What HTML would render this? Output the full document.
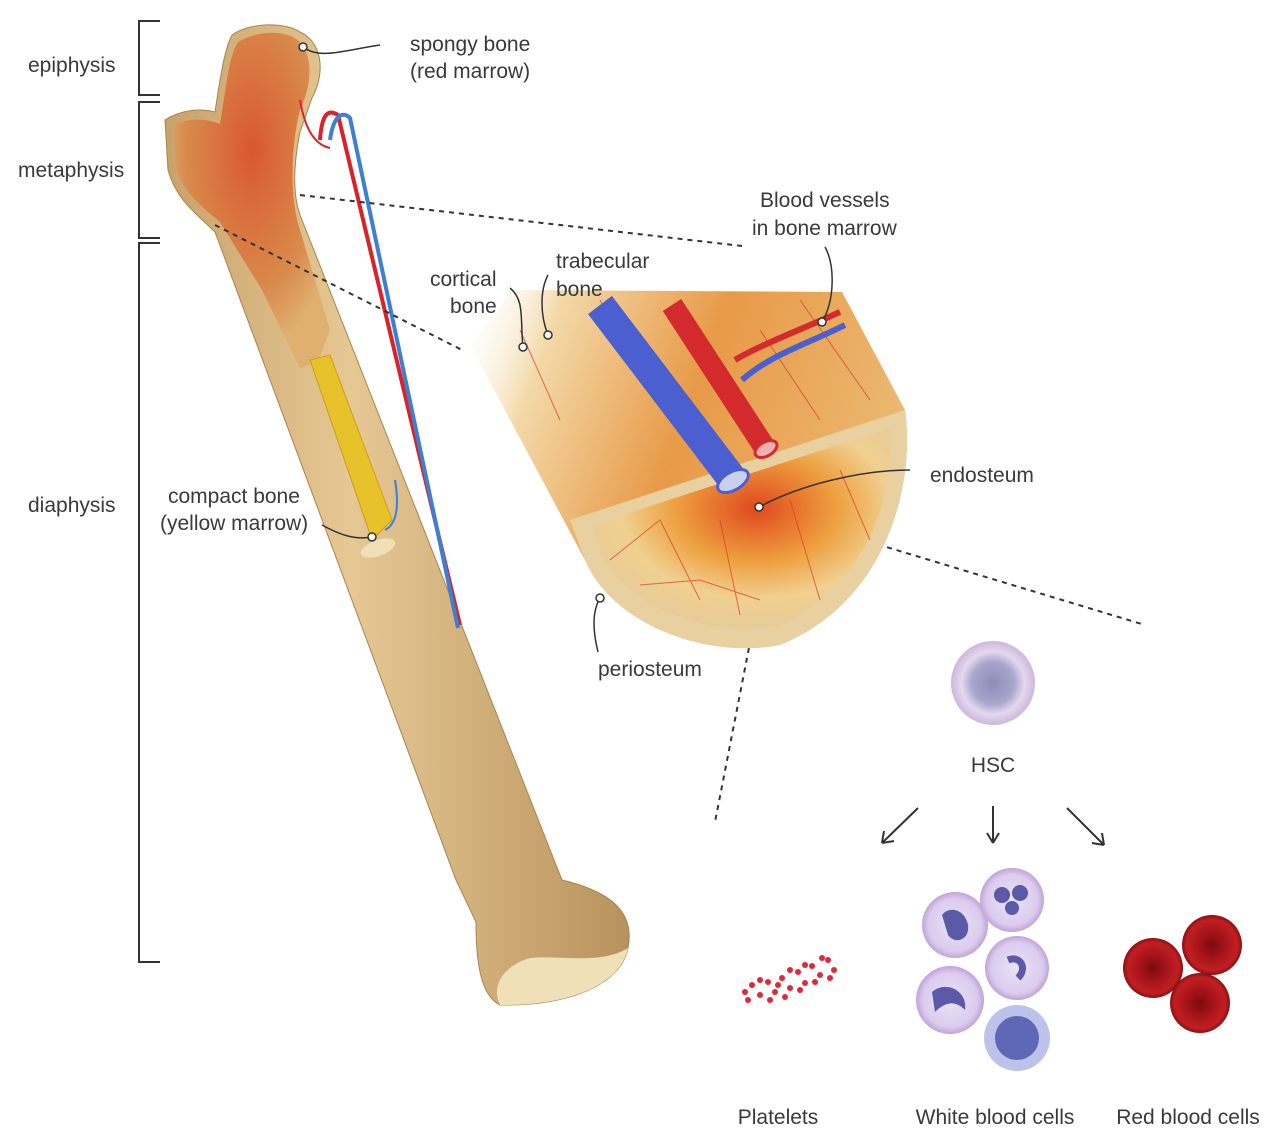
<!DOCTYPE html>
<html><head><meta charset="utf-8"><style>
html,body{margin:0;padding:0;background:#fff}
svg{display:block}
text{font-family:"Liberation Sans",sans-serif;fill:#3a3a3a;font-size:21px}
</style></head><body>
<svg width="1280" height="1142" viewBox="0 0 1280 1142" xmlns="http://www.w3.org/2000/svg">
<defs>
<linearGradient id="boneG" x1="0" y1="0" x2="1" y2="0">
<stop offset="0" stop-color="#c9a26a"/><stop offset="0.4" stop-color="#e6c894"/><stop offset="1" stop-color="#b8925c"/></linearGradient>
<radialGradient id="marrowG" cx="0.5" cy="0.35" r="0.6">
<stop offset="0" stop-color="#d9582e"/><stop offset="0.7" stop-color="#d98a4c"/><stop offset="1" stop-color="#e0b070"/></radialGradient>
<radialGradient id="faceG" cx="0.55" cy="0.4" r="0.6">
<stop offset="0" stop-color="#e0481e"/><stop offset="0.45" stop-color="#eea040"/><stop offset="0.75" stop-color="#f0d090"/><stop offset="1" stop-color="#e8cc98"/></radialGradient>
<linearGradient id="sideG" x1="0" y1="0" x2="1" y2="0.3">
<stop offset="0" stop-color="#fff" stop-opacity="0"/><stop offset="0.2" stop-color="#f3d9a8"/><stop offset="0.55" stop-color="#e89a48"/><stop offset="1" stop-color="#ebb870"/></linearGradient>
<radialGradient id="hscG" cx="0.5" cy="0.5" r="0.5">
<stop offset="0" stop-color="#8e8cb8"/><stop offset="0.5" stop-color="#a9a6cc"/><stop offset="0.75" stop-color="#e4d8ee"/><stop offset="1" stop-color="#cdb7dc"/></radialGradient>
<radialGradient id="wbcG" cx="0.5" cy="0.5" r="0.5">
<stop offset="0" stop-color="#e8e4f4"/><stop offset="0.8" stop-color="#dccbee"/><stop offset="1" stop-color="#c0a4d8"/></radialGradient>
<radialGradient id="rbcG" cx="0.5" cy="0.5" r="0.5">
<stop offset="0" stop-color="#7a0c0c"/><stop offset="0.45" stop-color="#a5141a"/><stop offset="0.85" stop-color="#c01f22"/><stop offset="1" stop-color="#8c1010"/></radialGradient>
</defs>

<g stroke="#333" stroke-width="2" fill="none">
<path d="M160,21 H139 V95 H160"/>
<path d="M160,102 H139 V238 H160"/>
<path d="M160,243 H139 V962 H160"/>
</g>
<text x="28" y="72">epiphysis</text>
<text x="18" y="177">metaphysis</text>
<text x="28" y="512">diaphysis</text>

<path d="M300,32 C322,42 326,72 312,98 L300,132 C294,162 292,192 300,215 L562,880 C604,890 636,908 628,948 C620,988 562,1006 500,1005 C480,995 476,960 476,922 L456,880 L215,232 C198,215 176,200 168,170 L165,120 C180,110 200,108 215,112 C220,80 224,50 232,35 C250,22 285,22 300,32 Z" fill="url(#boneG)" stroke="#a88450" stroke-width="1"/>
<path d="M500,1005 C490,985 505,965 530,958 C560,955 600,965 628,948 C620,988 562,1006 500,1005Z" fill="#efe0b8"/>
<path d="M298,40 C314,55 312,85 300,110 C290,150 290,200 300,230 L330,330 L318,362 L300,368 L262,290 L220,222 C200,205 180,190 176,165 L174,125 C188,118 205,118 220,124 C226,90 228,58 238,42 C258,30 285,30 298,40Z" fill="url(#marrowG)"/>
<path d="M310,360 L330,355 L392,520 L372,540 Z" fill="#e8c22a" stroke="#c9a018"/>
<ellipse cx="378" cy="548" rx="18" ry="8" fill="#efe0b8" transform="rotate(-20 378 548)"/>
<path d="M320,140 C322,110 330,110 338,115 L460,625" stroke="#d9232a" stroke-width="4" fill="none"/>
<path d="M330,140 C334,112 344,112 350,118 L458,628" stroke="#3d7fd0" stroke-width="4" fill="none"/>
<path d="M300,100 C305,130 315,145 330,148" stroke="#d9232a" stroke-width="2" fill="none"/>
<path d="M395,480 C400,510 395,525 385,530" stroke="#3d7fd0" stroke-width="2" fill="none"/>

<g stroke="#333" stroke-width="2" stroke-dasharray="5,5" fill="none">
<path d="M300,195 L742,246"/>
<path d="M215,225 L462,350"/>
<path d="M820,527 L1145,625"/>
<path d="M770,540 L715,822"/>
</g>

<path d="M470,345 L512,290 L842,292 L905,410 C915,480 890,600 780,645 C700,660 610,620 585,560 L470,345Z" fill="url(#sideG)"/>
<path d="M570,520 L905,410 C915,480 890,600 780,645 C700,660 610,620 585,560 Z" fill="#e9d0a0"/>
<path d="M592,525 L890,428 C895,490 870,585 780,625 C710,640 625,605 602,555 Z" fill="url(#faceG)"/>
<g stroke="#d53a2a" stroke-width="1" fill="none" opacity="0.7">
<path d="M610,560 L660,520 L700,600 M720,520 L740,615 M790,500 L820,600 M840,470 L870,540 M640,585 L700,580 L760,600"/>
<path d="M520,330 L560,420 M600,300 L640,380 M800,300 L870,400 M760,330 L820,420"/>
</g>
<path d="M600,305 L733,480" stroke="#4b5fd0" stroke-width="30" fill="none"/>
<ellipse cx="733" cy="481" rx="17" ry="9" fill="#c8d0f0" stroke="#4b5fd0" stroke-width="3" transform="rotate(-30 733 481)"/>
<path d="M672,305 L765,448" stroke="#d32a2e" stroke-width="22" fill="none"/>
<ellipse cx="766" cy="449" rx="12" ry="7" fill="#f0b0b0" stroke="#d32a2e" stroke-width="3" transform="rotate(-30 766 449)"/>
<path d="M735,360 C760,345 800,330 840,312" stroke="#d32a2e" stroke-width="6" fill="none"/>
<path d="M742,380 C770,355 805,345 845,325" stroke="#4b5fd0" stroke-width="6" fill="none"/>

<g stroke="#333" stroke-width="1.5" fill="none">
<path d="M303,47 C320,60 345,50 380,45"/>
<path d="M372,537 C355,540 340,535 322,525"/>
<path d="M523,347 C520,320 525,300 510,288"/>
<path d="M548,335 C540,315 540,290 548,275"/>
<path d="M822,322 C835,300 835,265 825,247"/>
<path d="M759,507 C800,485 860,470 910,470"/>
<path d="M600,598 C590,615 595,640 598,652"/>
</g>
<g fill="#fff" stroke="#333" stroke-width="1.5">
<circle cx="303" cy="47" r="4"/><circle cx="372" cy="537" r="4"/><circle cx="523" cy="347" r="4"/>
<circle cx="548" cy="335" r="4"/><circle cx="822" cy="322" r="4"/><circle cx="759" cy="507" r="4"/><circle cx="600" cy="598" r="4"/>
</g>
<text x="410" y="51">spongy bone</text>
<text x="410" y="78">(red marrow)</text>
<text x="168" y="503">compact bone</text>
<text x="160" y="530">(yellow marrow)</text>
<text x="430" y="286">cortical</text>
<text x="450" y="313">bone</text>
<text x="556" y="268">trabecular</text>
<text x="556" y="296">bone</text>
<text x="760" y="207">Blood vessels</text>
<text x="752" y="235">in bone marrow</text>
<text x="930" y="482">endosteum</text>
<text x="598" y="676">periosteum</text>

<circle cx="993" cy="683" r="42" fill="url(#hscG)"/>
<text x="993" y="772" text-anchor="middle">HSC</text>
<g stroke="#333" stroke-width="2" fill="none">
<path d="M918,808 L882,843 M882,843 L894,841 M882,843 L884,831"/>
<path d="M993,806 L993,843 M993,843 L987,833 M993,843 L999,833"/>
<path d="M1067,808 L1104,845 M1104,845 L1102,833 M1104,845 L1092,843"/>
</g>

<g fill="#e0283a">
<circle cx="745" cy="992" r="3"/><circle cx="752" cy="985" r="3"/><circle cx="760" cy="995" r="3"/><circle cx="768" cy="982" r="3"/>
<circle cx="775" cy="992" r="3"/><circle cx="782" cy="978" r="3"/><circle cx="790" cy="988" r="3"/><circle cx="798" cy="972" r="3"/>
<circle cx="805" cy="983" r="3"/><circle cx="812" cy="966" r="3"/><circle cx="820" cy="975" r="3"/><circle cx="828" cy="960" r="3"/>
<circle cx="834" cy="970" r="3"/><circle cx="760" cy="980" r="3"/><circle cx="770" cy="1000" r="3"/><circle cx="785" cy="997" r="3"/>
<circle cx="800" cy="990" r="3"/><circle cx="815" cy="982" r="3"/><circle cx="822" cy="958" r="3"/><circle cx="805" cy="965" r="3"/>
<circle cx="790" cy="970" r="3"/><circle cx="778" cy="985" r="3"/><circle cx="748" cy="1000" r="3"/><circle cx="830" cy="978" r="3"/>
</g>
<g>
<circle cx="955" cy="925" r="33" fill="url(#wbcG)"/><path d="M942,915 C950,905 965,910 968,925 C970,940 955,945 948,935 Z" fill="#5b5aa8"/>
<circle cx="1012" cy="900" r="32" fill="url(#wbcG)"/><circle cx="1002" cy="895" r="8" fill="#5b5aa8"/><circle cx="1020" cy="893" r="8" fill="#5b5aa8"/><circle cx="1012" cy="908" r="7" fill="#5b5aa8"/>
<circle cx="1017" cy="968" r="32" fill="url(#wbcG)"/><path d="M1008,960 C1020,955 1028,968 1018,978" stroke="#5b5aa8" stroke-width="7" fill="none"/>
<circle cx="950" cy="1000" r="34" fill="url(#wbcG)"/><path d="M932,992 C945,980 968,990 965,1010 C955,1000 945,1002 935,1012 Z" fill="#5b5aa8"/>
<circle cx="1017" cy="1038" r="33" fill="#bcc2ea"/><circle cx="1017" cy="1038" r="22" fill="#5f68b4"/>
</g>
<circle cx="1212" cy="945" r="30" fill="url(#rbcG)"/>
<circle cx="1153" cy="968" r="30" fill="url(#rbcG)"/>
<circle cx="1200" cy="1003" r="30" fill="url(#rbcG)"/>

<text x="778" y="1124" text-anchor="middle">Platelets</text>
<text x="995" y="1124" text-anchor="middle">White blood cells</text>
<text x="1188" y="1124" text-anchor="middle">Red blood cells</text>
</svg>
</body></html>
